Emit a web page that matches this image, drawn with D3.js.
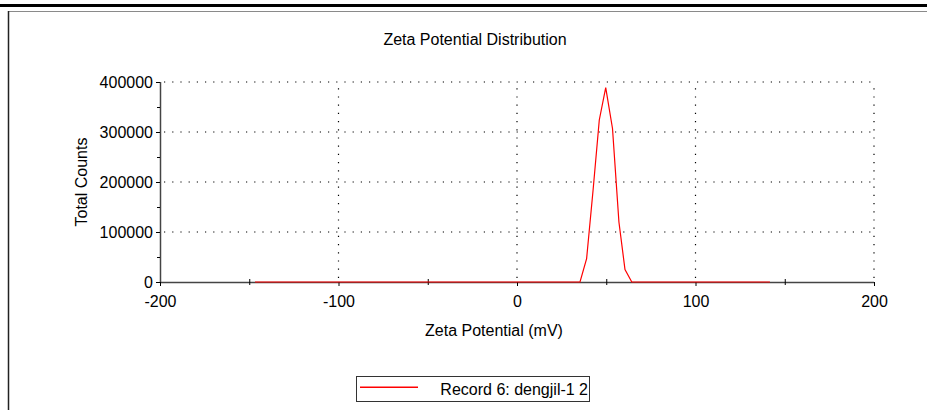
<!DOCTYPE html>
<html>
<head>
<meta charset="utf-8">
<script src="https://cdn.jsdelivr.net/npm/d3@7"></script>
<style>
  html, body { margin: 0; padding: 0; background: #fff; }
  svg { display: block; font-family: "Liberation Sans", Arial, sans-serif; }
</style>
</head>
<body>
<svg id="chart" width="927" height="410"></svg>
<script>
// Zeta potential distribution (mV vs total counts)
const zetaMv = [-146.8, 35.3, 39.0, 42.6, 46.1, 49.7, 53.5, 57.1, 60.5, 64.3, 141.7];
const totalCounts = [0, 0, 46800, 183000, 324000, 388800, 307000, 120000, 24800, 0, 0];
const xTicks = [-200, -100, 0, 100, 200];
const xMinorTicks = [-150, -50, 50, 150];
const yTicks = [0, 100000, 200000, 300000, 400000];
const yMinorTicks = [50000, 150000, 250000, 350000];
const seriesName = "Record 6: dengjil-1 2";

const svg = d3.select("#chart");
const plot = { left: 160, right: 874, top: 82, bottom: 282 };
const fontSize = 16;
const seriesColor = "#ff0000";

const x = d3.scaleLinear().domain([-200, 200]).range([plot.left, plot.right]);
const y = d3.scaleLinear().domain([0, 400000]).range([plot.bottom, plot.top]);

// window chrome: heavy rule on top, thin frame below it
svg.append("rect").attr("x", 0).attr("y", 4).attr("width", 927).attr("height", 3).attr("fill", "#000");
svg.append("line").attr("x1", 8).attr("x2", 927).attr("y1", 11.5).attr("y2", 11.5)
  .attr("stroke", "#8a8a8a").attr("stroke-width", 1);
svg.append("line").attr("x1", 8.5).attr("x2", 8.5).attr("y1", 11).attr("y2", 410)
  .attr("stroke", "#222").attr("stroke-width", 1.5);

// title
svg.append("text").attr("x", 475).attr("y", 45).attr("text-anchor", "middle")
  .attr("font-size", fontSize).attr("fill", "#000").text("Zeta Potential Distribution");

// dotted grid
const grid = svg.append("g").attr("stroke", "#000").attr("stroke-width", 1.2)
  .attr("stroke-dasharray", "1.2,7");
grid.selectAll("line.h").data(yTicks.filter(d => d > 0)).join("line").attr("class", "h")
  .attr("x1", plot.left + 4).attr("x2", plot.right)
  .attr("y1", d => y(d)).attr("y2", d => y(d));
grid.selectAll("line.v").data(xTicks.filter(d => d > -200)).join("line").attr("class", "v")
  .attr("y1", plot.bottom - 4).attr("y2", plot.top)
  .attr("x1", d => x(d)).attr("x2", d => x(d));

// axes
const fmt = d => String(d);
const axisColor = "#444";
const yAxis = d3.axisLeft(y).tickValues(yTicks).tickFormat(fmt).tickSize(4).tickPadding(3);
const gy = svg.append("g").attr("transform", `translate(${plot.left},0)`).call(yAxis);
const yMinor = d3.axisLeft(y).tickValues(yMinorTicks).tickFormat("").tickSize(3);
const gym = svg.append("g").attr("transform", `translate(${plot.left},0)`).call(yMinor);
gym.select(".domain").remove();

const xAxis = d3.axisBottom(x).tickValues(xTicks).tickFormat(fmt).tickSize(4).tickPadding(10);
const gx = svg.append("g").attr("transform", `translate(0,${plot.bottom})`).call(xAxis);
const xMinor = d3.axisBottom(x).tickValues(xMinorTicks).tickFormat("").tickSize(3);
const gxm = svg.append("g").attr("transform", `translate(0,${plot.bottom})`).call(xMinor);
gxm.select(".domain").remove();
gxm.selectAll(".tick line").attr("y1", -3);

[gy, gym, gx, gxm].forEach(g => {
  g.select(".domain").attr("stroke", axisColor).attr("stroke-width", 1.5);
  g.selectAll(".tick line").attr("stroke", "#000").attr("stroke-width", 1);
  g.selectAll("text").attr("font-size", fontSize).attr("fill", "#000")
    .attr("font-family", "Liberation Sans, Arial, sans-serif");
});
gy.selectAll(".domain").attr("d", `M0.5,${plot.top}V${plot.bottom}`);
gx.selectAll(".domain").attr("d", `M${plot.left},0.5H${plot.right}`);
gx.selectAll(".tick text").attr("dy", "0.71em");

// axis titles
svg.append("text").attr("transform", `translate(87,${(plot.top + plot.bottom) / 2}) rotate(-90)`)
  .attr("text-anchor", "middle").attr("font-size", fontSize).text("Total Counts");
svg.append("text").attr("x", 494).attr("y", 336).attr("text-anchor", "middle")
  .attr("font-size", fontSize).text("Zeta Potential (mV)");

// distribution curve
const line = d3.line().x(d => x(d[0])).y(d => y(d[1]));
svg.append("path").datum(d3.zip(zetaMv, totalCounts))
  .attr("d", line).attr("fill", "none").attr("stroke", seriesColor).attr("stroke-width", 1.2);

// legend
const lg = svg.append("g");
lg.append("rect").attr("x", 356.5).attr("y", 376.5).attr("width", 233).attr("height", 25)
  .attr("fill", "#fff").attr("stroke", "#333").attr("stroke-width", 1);
lg.append("rect").attr("x", 360).attr("y", 386.5).attr("width", 58).attr("height", 1.5)
  .attr("fill", seriesColor);
lg.append("text").attr("x", 588).attr("y", 395).attr("text-anchor", "end")
  .attr("font-size", fontSize).text(seriesName);
</script>
</body>
</html>
